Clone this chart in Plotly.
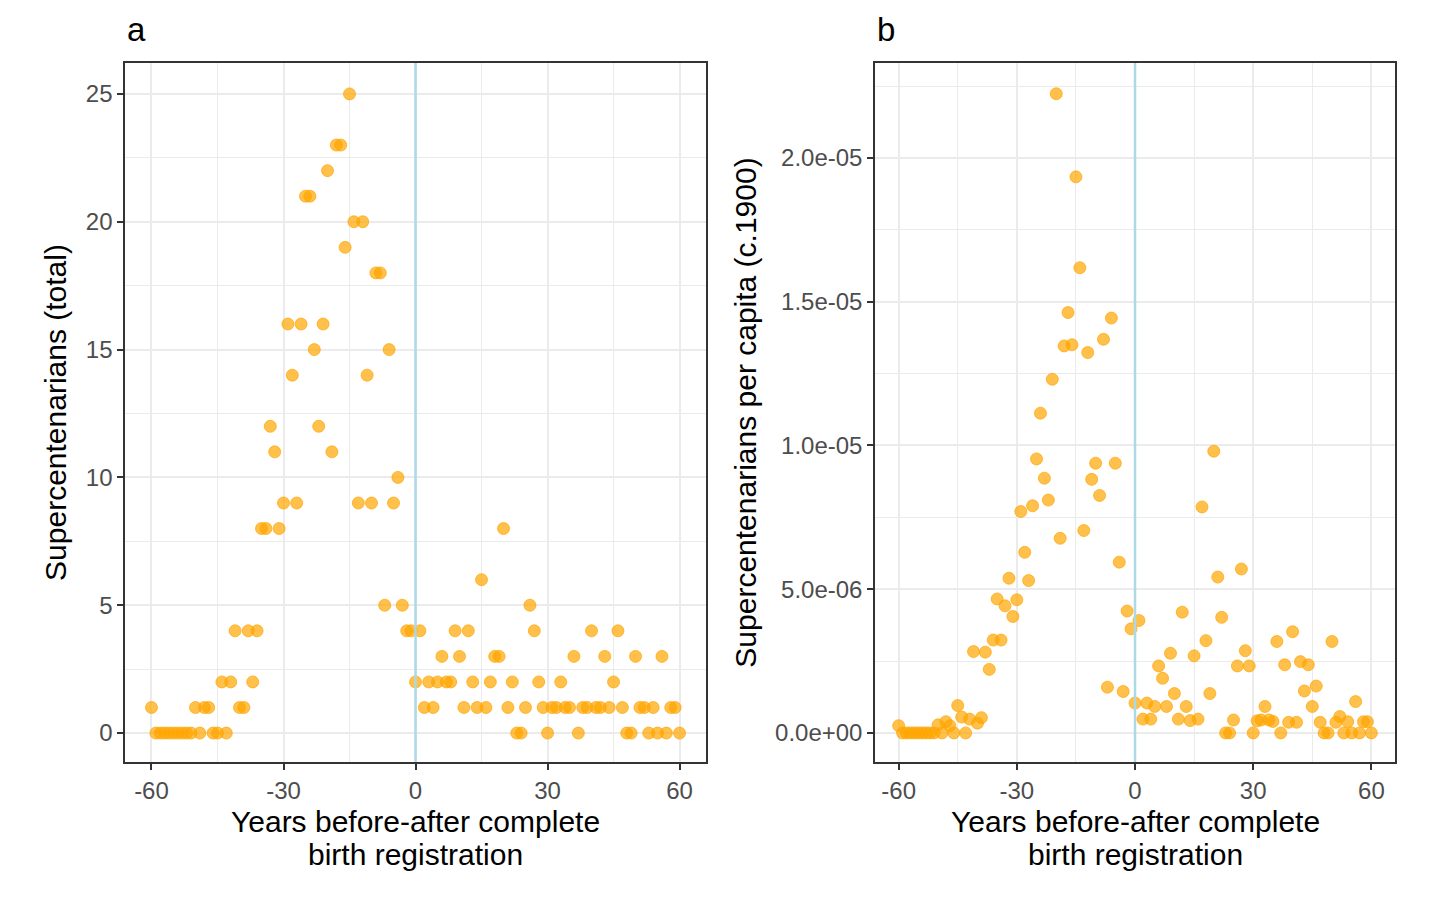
import plotly.graph_objects as go

# Years relative to the start of complete birth registration
years = list(range(-60, 61))

# Panel a: supercentenarians (total)
total = [
    1, 0, 0, 0, 0, 0, 0, 0, 0, 0,          # -60 .. -51
    1, 0, 1, 1, 0, 0, 2, 0, 2, 4,          # -50 .. -41
    1, 1, 4, 2, 4, 8, 8, 12, 11, 8,        # -40 .. -31
    9, 16, 14, 9, 16, 21, 21, 15, 12, 16,  # -30 .. -21
    22, 11, 23, 23, 19, 25, 20, 9, 20, 14, # -20 .. -11
    9, 18, 18, 5, 15, 9, 10, 5, 4, 4,      # -10 .. -1
    2,                                     # 0
    4, 1, 2, 1, 2, 3, 2, 2, 4, 3,          # 1 .. 10
    1, 4, 2, 1, 6, 1, 2, 3, 3, 8,          # 11 .. 20
    1, 2, 0, 0, 1, 5, 4, 2, 1, 0,          # 21 .. 30
    1, 1, 2, 1, 1, 3, 0, 1, 1, 4,          # 31 .. 40
    1, 1, 3, 1, 2, 4, 1, 0, 0, 3,          # 41 .. 50
    1, 1, 0, 1, 0, 3, 0, 1, 1, 0,          # 51 .. 60
]

# Panel b: supercentenarians per capita (c.1900)
per_capita = [
    2.5e-07, 0, 0, 0, 0, 0, 0, 0, 0, 0,                                      # -60 .. -51
    2.8e-07, 0, 3.9e-07, 2.5e-07, 0, 9.5e-07, 5.5e-07, 0, 4.8e-07, 2.83e-06,  # -50 .. -41
    3.4e-07, 5.3e-07, 2.81e-06, 2.21e-06, 3.23e-06, 4.66e-06, 3.23e-06,
    4.42e-06, 5.38e-06, 4.05e-06,                                            # -40 .. -31
    4.63e-06, 7.7e-06, 6.28e-06, 5.3e-06, 7.9e-06, 9.53e-06, 1.112e-05,
    8.86e-06, 8.1e-06, 1.23e-05,                                             # -30 .. -21
    2.223e-05, 6.77e-06, 1.346e-05, 1.462e-05, 1.35e-05, 1.934e-05,
    1.618e-05, 7.04e-06, 1.323e-05, 8.82e-06,                                # -20 .. -11
    9.38e-06, 8.26e-06, 1.369e-05, 1.59e-06, 1.443e-05, 9.38e-06, 5.94e-06,
    1.44e-06, 4.24e-06, 3.62e-06,                                            # -10 .. -1
    1.04e-06,                                                                # 0
    3.91e-06, 4.8e-07, 1.04e-06, 4.8e-07, 9.2e-07, 2.33e-06, 1.9e-06,
    9.2e-07, 2.77e-06, 1.37e-06,                                             # 1 .. 10
    4.8e-07, 4.2e-06, 9.2e-07, 4.3e-07, 2.68e-06, 4.8e-07, 7.86e-06,
    3.21e-06, 1.37e-06, 9.8e-06,                                             # 11 .. 20
    5.42e-06, 4.02e-06, 0, 0, 4.5e-07, 2.33e-06, 5.7e-06, 2.86e-06,
    2.33e-06, 0,                                                             # 21 .. 30
    4.2e-07, 4.5e-07, 9.2e-07, 4.5e-07, 4.0e-07, 3.18e-06, 0, 2.37e-06,
    3.7e-07, 3.52e-06,                                                       # 31 .. 40
    3.7e-07, 2.48e-06, 1.46e-06, 2.37e-06, 9.2e-07, 1.63e-06, 3.7e-07,
    0, 0, 3.18e-06,                                                          # 41 .. 50
    3.7e-07, 5.7e-07, 0, 3.9e-07, 0, 1.09e-06, 0, 3.9e-07, 3.9e-07, 0,       # 51 .. 60
]

x_ticks = [-60, -30, 0, 30, 60]
x_labels = ["-60", "-30", "0", "30", "60"]
y_ticks_a = [0, 5, 10, 15, 20, 25]
y_labels_a = ["0", "5", "10", "15", "20", "25"]
y_ticks_b = [0, 5e-06, 1e-05, 1.5e-05, 2e-05]
y_labels_b = ["0.0e+00", "5.0e-06", "1.0e-05", "1.5e-05", "2.0e-05"]
x_title_lines = ["Years before-after complete", "birth registration"]

FONT = "Liberation Sans, Arial, Helvetica, sans-serif"
POINT = "rgba(255,165,0,0.7)"
GRID = "#EBEBEB"

fig = go.Figure()

fig.add_trace(go.Scatter(
    x=years, y=total, mode="markers", xaxis="x", yaxis="y",
    marker=dict(size=12, color=POINT, line=dict(width=1, color=POINT)),
    showlegend=False,
))
fig.add_trace(go.Scatter(
    x=years, y=per_capita, mode="markers", xaxis="x2", yaxis="y2",
    marker=dict(size=12, color=POINT, line=dict(width=1, color=POINT)),
    showlegend=False,
))


def x_axis(domain, anchor):
    return dict(
        domain=domain, anchor=anchor, range=[-66, 66],
        tickvals=x_ticks, ticktext=x_labels, ticks="outside", ticklen=6,
        tickwidth=1.5, tickcolor="#333333",
        tickfont=dict(size=24, color="#4D4D4D"),
        showgrid=True, gridcolor=GRID, gridwidth=2, zeroline=False,
        minor=dict(tickvals=[-45, -15, 15, 45], showgrid=True,
                   gridcolor=GRID, gridwidth=1, ticks=""),
        showline=True, linecolor="#333333", linewidth=1.5, mirror=True,
    )


def y_axis(domain, anchor, rng, vals, texts, minor_vals, title):
    return dict(
        domain=domain, anchor=anchor, range=rng,
        tickvals=vals, ticktext=texts, ticks="outside", ticklen=6,
        tickwidth=1.5, tickcolor="#333333",
        tickfont=dict(size=24, color="#4D4D4D"),
        showgrid=True, gridcolor=GRID, gridwidth=2, zeroline=False,
        minor=dict(tickvals=minor_vals, showgrid=True,
                   gridcolor=GRID, gridwidth=1, ticks=""),
        showline=True, linecolor="#333333", linewidth=1.5, mirror=True,
        title=dict(text=title, font=dict(size=30, color="black"), standoff=10),
    )


dom_a = [0.0813, 0.4847]
dom_b = [0.6021, 0.9632]

annotations = []
for label, dom in [("a", dom_a), ("b", dom_b)]:
    annotations.append(dict(
        text=label, x=dom[0], y=0.9754, xref="paper", yref="paper",
        xanchor="left", yanchor="middle", showarrow=False,
        font=dict(size=33, color="black")))
    # two-line x axis title, set as text so the line gap matches
    for line, ypos in zip(x_title_lines, [0.0885, 0.0526]):
        annotations.append(dict(
            text=line, x=(dom[0] + dom[1]) / 2, y=ypos,
            xref="paper", yref="paper", xanchor="center", yanchor="middle",
            showarrow=False, font=dict(size=30, color="black")))

# page body keeps an 8px margin, so the figure is 16px smaller than the window
fig.update_layout(
    width=1440, height=893,
    margin=dict(l=0, r=0, t=0, b=0),
    plot_bgcolor="white", paper_bgcolor="white",
    font=dict(family=FONT),
    xaxis=x_axis(dom_a, "y"),
    yaxis=y_axis([0.1557, 0.9384], "x", [-1.13, 26.21], y_ticks_a,
                 y_labels_a, [2.5, 7.5, 12.5, 17.5, 22.5],
                 "Supercentenarians (total)"),
    xaxis2=x_axis(dom_b, "y2"),
    yaxis2=y_axis([0.1557, 0.9384], "x2", [-1.01e-06, 2.33e-05], y_ticks_b,
                  y_labels_b, [2.5e-06, 7.5e-06, 1.25e-05, 1.75e-05, 2.25e-05],
                  "Supercentenarians per capita (c.1900)"),
    annotations=annotations,
)

# Reference line at the start of complete birth registration
fig.add_vline(x=0, line_color="lightblue", line_width=2.5, xref="x", yref="y")
fig.add_vline(x=0, line_color="lightblue", line_width=2.5, xref="x2", yref="y2")

fig.write_html("out.html")
